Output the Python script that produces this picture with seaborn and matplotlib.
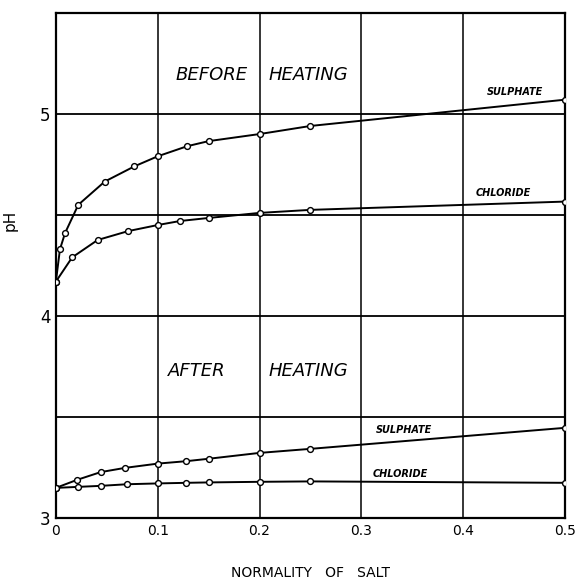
import pandas as pd
import matplotlib.pyplot as plt
import seaborn as sns

# normality of salt vs pH
x_sulph_before = [0, 0.004, 0.009, 0.022, 0.048, 0.077, 0.1, 0.129, 0.15, 0.2, 0.25, 0.5]
ph_sulph_before = [4.17, 4.33, 4.41, 4.55, 4.665, 4.74, 4.79, 4.84, 4.865, 4.90, 4.94, 5.07]

x_chlor_before = [0, 0.016, 0.041, 0.071, 0.1, 0.122, 0.15, 0.2, 0.25, 0.5]
ph_chlor_before = [4.17, 4.29, 4.376, 4.42, 4.45, 4.47, 4.485, 4.51, 4.525, 4.566]

x_sulph_after = [0, 0.021, 0.044, 0.068, 0.1, 0.128, 0.15, 0.2, 0.25, 0.5]
ph_sulph_after = [3.15, 3.19, 3.228, 3.249, 3.27, 3.282, 3.294, 3.323, 3.343, 3.447]

x_chlor_after = [0, 0.022, 0.044, 0.07, 0.1, 0.128, 0.15, 0.2, 0.25, 0.5]
ph_chlor_after = [3.15, 3.155, 3.16, 3.168, 3.172, 3.175, 3.177, 3.18, 3.182, 3.175]

x_ticks = [0, 0.1, 0.2, 0.3, 0.4, 0.5]
x_tick_labels = ["0", "0.1", "0.2", "0.3", "0.4", "0.5"]
y_ticks = [3, 4, 5]
y_grid = [3.5, 4, 4.5, 5]

series = [
    (x_sulph_before, ph_sulph_before),
    (x_chlor_before, ph_chlor_before),
    (x_sulph_after, ph_sulph_after),
    (x_chlor_after, ph_chlor_after),
]

sns.set_theme(style="white")
plt.rcParams['font.family'] = ['DejaVu Sans']

fig = plt.figure(figsize=(5.76, 5.79), dpi=100)
ax = fig.add_axes([0.097, 0.105, 0.884, 0.873])

# hand-drawn style grid
for gx in x_ticks[1:-1]:
    ax.axvline(gx, color="black", lw=1.1, zorder=1)
for gy in y_grid:
    ax.axhline(gy, color="black", lw=1.3, zorder=1)

for xs, ys in series:
    df = pd.DataFrame({"x": xs, "pH": ys})
    sns.lineplot(data=df, x="x", y="pH", ax=ax, color="black", lw=1.4,
                 marker="o", markersize=4.2, markerfacecolor="white",
                 markeredgecolor="black", markeredgewidth=1.0, zorder=3)

ax.set_xlim(0, 0.5)
ax.set_ylim(3, 5.5)
ax.set_xticks(x_ticks)
ax.set_xticklabels(x_tick_labels, fontsize=10, color="black")
ax.set_yticks(y_ticks)
ax.set_yticklabels([str(v) for v in y_ticks], fontsize=12, color="black")
ax.tick_params(length=0, pad=4)

ax.set_xlabel("NORMALITY   OF   SALT", fontsize=10, labelpad=20, color="black")
ax.set_ylabel("pH", fontsize=11, color="black")
ax.yaxis.set_label_coords(-0.075, 0.59)

for s in ax.spines.values():
    s.set_color("black")
    s.set_linewidth(1.6)

big = dict(fontsize=13, style="italic", color="black", va="center")
ax.text(0.117, 5.19, "BEFORE", **big)
ax.text(0.209, 5.19, "HEATING", **big)
ax.text(0.11, 3.73, "AFTER", **big)
ax.text(0.209, 3.73, "HEATING", **big)

small = dict(fontsize=7, style="italic", fontweight="bold", color="black", va="center")
ax.text(0.423, 5.11, "SULPHATE", **small)
ax.text(0.412, 4.61, "CHLORIDE", **small)
ax.text(0.314, 3.435, "SULPHATE", **small)
ax.text(0.311, 3.22, "CHLORIDE", **small)

plt.savefig("out.png", dpi=100)
